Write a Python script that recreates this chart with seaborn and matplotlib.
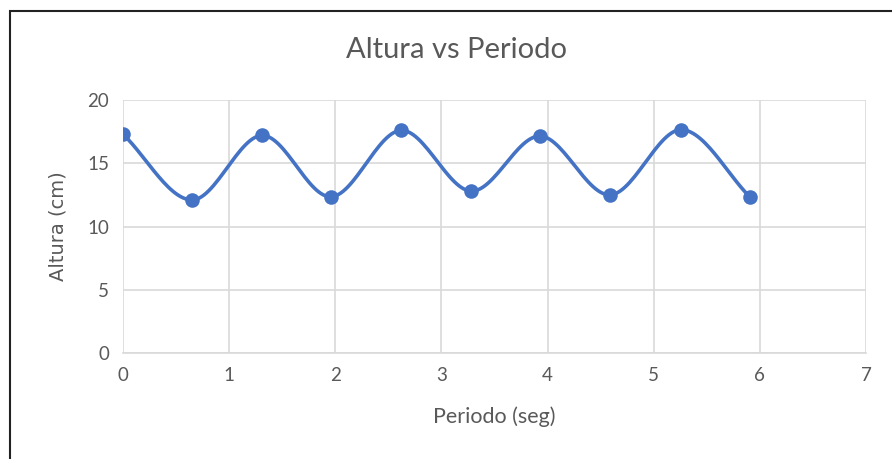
import numpy as np
import matplotlib
matplotlib.use("Agg")
import matplotlib.pyplot as plt
import seaborn as sns
import pandas as pd
from matplotlib.patches import Rectangle

periodo = [0.0, 0.65, 1.31, 1.96, 2.62, 3.28, 3.93, 4.59, 5.26, 5.91]
altura = [17.3, 12.1, 17.2, 12.35, 17.6, 12.8, 17.15, 12.5, 17.65, 12.3]
x_ticks = [0, 1, 2, 3, 4, 5, 6, 7]
y_ticks = [0, 5, 10, 15, 20]

sns.set_theme(style="white")
plt.rcParams['font.family'] = ['Lato', 'DejaVu Sans']

def smooth(xs, ys, n=30):
    # Catmull-Rom style smoothing like Excel's smoothed line
    xs = np.asarray(xs, float); ys = np.asarray(ys, float)
    px = np.concatenate([[2*xs[0]-xs[1]], xs, [2*xs[-1]-xs[-2]]])
    py = np.concatenate([[2*ys[0]-ys[1]], ys, [2*ys[-1]-ys[-2]]])
    ox, oy = [], []
    t = np.linspace(0, 1, n)
    for i in range(1, len(px)-2):
        p0x, p1x, p2x, p3x = px[i-1:i+3]
        p0y, p1y, p2y, p3y = py[i-1:i+3]
        c1x = p1x + (p2x - p0x)/6; c1y = p1y + (p2y - p0y)/6
        c2x = p2x - (p3x - p1x)/6; c2y = p2y - (p3y - p1y)/6
        bx = (1-t)**3*p1x + 3*(1-t)**2*t*c1x + 3*(1-t)*t**2*c2x + t**3*p2x
        by = (1-t)**3*p1y + 3*(1-t)**2*t*c1y + 3*(1-t)*t**2*c2y + t**3*p2y
        ox.extend(bx); oy.extend(by)
    return np.array(ox), np.array(oy)

sx, sy = smooth(periodo, altura)
df_pts = pd.DataFrame({"Periodo": periodo, "Altura": altura})
df_line = pd.DataFrame({"Periodo": sx, "Altura": sy})

fig = plt.figure(figsize=(8.92, 4.59), dpi=100)
ax = fig.add_axes([123/892, 1-353/459, (866-123)/892, (353-100)/459])

color = "#4472C4"
sns.lineplot(data=df_line, x="Periodo", y="Altura", ax=ax, color=color, lw=2.6, sort=False, zorder=3)
sns.scatterplot(data=df_pts, x="Periodo", y="Altura", ax=ax, color=color, s=110, edgecolor=color, linewidth=0, zorder=4)

ax.set_xlim(0, 7)
ax.set_ylim(0, 20)
ax.set_xticks(x_ticks)
ax.set_yticks(y_ticks)
ax.grid(True, color="#d9d9d9", lw=1.2)
ax.set_axisbelow(True)
for s in ["top", "right", "left"]:
    ax.spines[s].set_visible(False)
ax.spines["bottom"].set_color("#d9d9d9")
ax.spines["bottom"].set_linewidth(1.2)
ax.tick_params(axis="both", length=0, colors="#595959", labelsize=13.5, pad=10)

ax.set_xlabel("Periodo (seg)", fontsize=15.5, color="#595959", labelpad=16)
ax.set_ylabel("Altura (cm)", fontsize=14, color="#595959", labelpad=14, family=['DejaVu Sans'])
fig.text(456/892, 1-50/459, "Altura vs Periodo", ha="center", va="center", fontsize=21, color="#595959")

fig.patches.append(Rectangle((10/892, -0.1), 1.0, 1-11/459+0.1, transform=fig.transFigure,
                             fill=False, edgecolor="#222222", lw=1.5))

fig.savefig("out.png", dpi=100, facecolor="white")
